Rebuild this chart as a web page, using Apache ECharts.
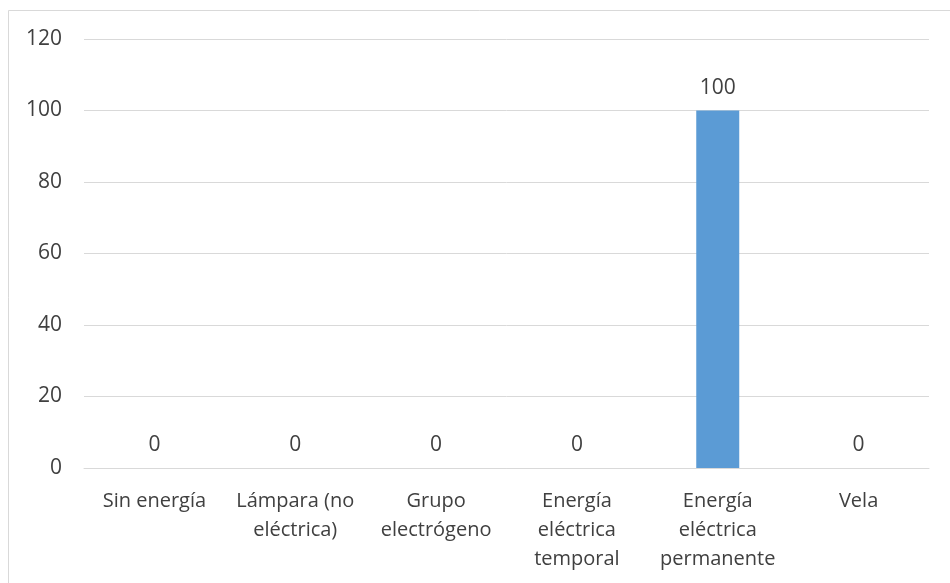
<!DOCTYPE html>
<html>
<head>
<meta charset="utf-8">
<script src="https://cdn.jsdelivr.net/npm/echarts@6/dist/echarts.min.js"></script>
<style>
  html, body { margin: 0; padding: 0; background: #ffffff; }
  #chart { width: 950px; height: 583px; }
</style>
</head>
<body>
<div id="chart"></div>
<script>
// Fuente de energía para alumbrado (%)
const categories = [
  'Sin energía',
  'Lámpara (no\neléctrica)',
  'Grupo\nelectrógeno',
  'Energía\neléctrica\ntemporal',
  'Energía\neléctrica\npermanente',
  'Vela'
];
const values = [0, 0, 0, 0, 100, 0];
const yTicks = { min: 0, max: 120, interval: 20 };

const FONT = '"Open Sans", "Liberation Sans", sans-serif';
const chart = echarts.init(document.getElementById('chart'), null, { renderer: 'canvas' });

chart.setOption({
  animation: false,
  backgroundColor: '#ffffff',
  graphic: [{
    type: 'rect',
    shape: { x: 8.5, y: 10.5, width: 1000, height: 1000 },
    style: { fill: 'none', stroke: '#d9d9d9', lineWidth: 1 },
    silent: true
  }],
  grid: { left: 84, right: 21, top: 39, bottom: 115 },
  xAxis: {
    type: 'category',
    data: categories,
    axisLine: { show: true, lineStyle: { color: '#d9d9d9', width: 1 } },
    axisTick: { show: false },
    axisLabel: {
      interval: 0,
      margin: 19,
      color: '#404040',
      fontFamily: FONT,
      fontSize: 20,
      lineHeight: 29
    }
  },
  yAxis: {
    type: 'value',
    min: yTicks.min,
    max: yTicks.max,
    interval: yTicks.interval,
    axisLine: { show: false },
    axisTick: { show: false },
    splitLine: { lineStyle: { color: '#d9d9d9', width: 1 } },
    axisLabel: {
      margin: 22,
      color: '#404040',
      fontFamily: FONT,
      fontSize: 21
    }
  },
  series: [{
    type: 'bar',
    data: values,
    barWidth: 43,
    itemStyle: { color: '#5b9bd5' },
    label: {
      show: true,
      position: 'top',
      distance: 12,
      color: '#404040',
      fontFamily: FONT,
      fontSize: 21
    }
  }]
});
</script>
</body>
</html>
